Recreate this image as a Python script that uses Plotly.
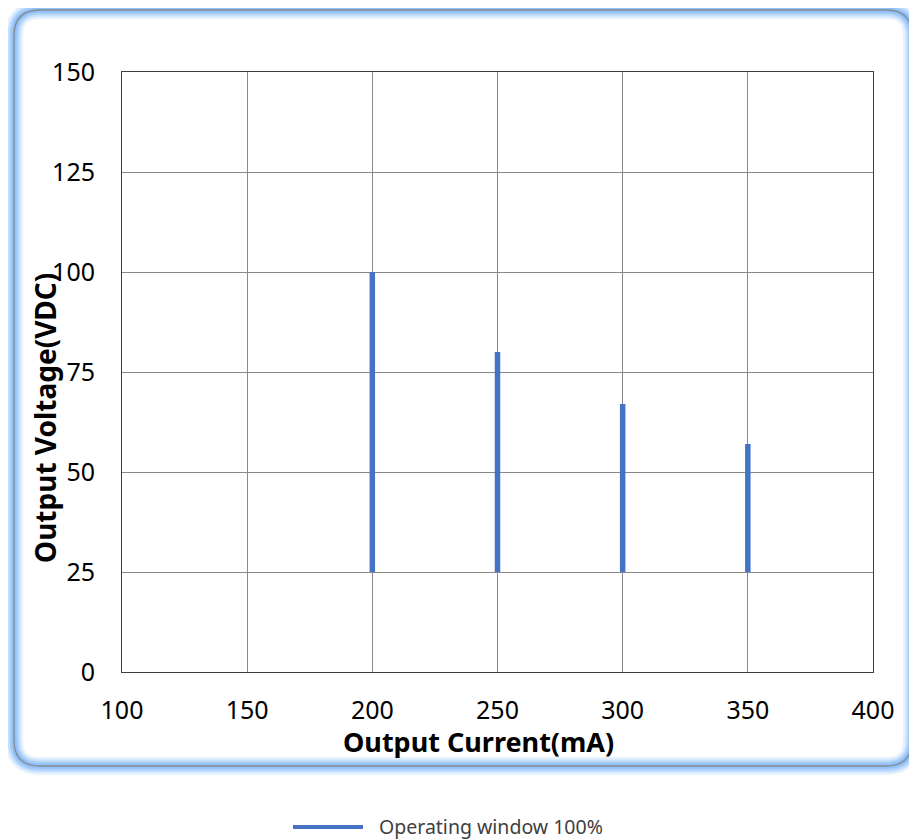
import plotly.graph_objects as go

currents = [200, 250, 300, 350]
v_min = [25, 25, 25, 25]
v_max = [100, 80, 67, 57]
x_ticks = [100, 150, 200, 250, 300, 350, 400]
y_ticks = [0, 25, 50, 75, 100, 125, 150]
legend_label = "Operating window 100%"

OFF = 8  # page body margin
W, H = 917 - OFF, 840 - OFF
L, R, T, B = 122, 873, 72, 672  # screen pixel positions of plot area


def px(x):
    return (x - L) / (R - L)


def py(y):
    return (B - y) / (B - T)


xs, ys = [], []
for c, lo, hi in zip(currents, v_min, v_max):
    xs += [c, c, None]
    ys += [lo, hi, None]

fig = go.Figure()
fig.add_trace(go.Scatter(x=xs, y=ys, mode="lines",
                         line=dict(color="#4472C4", width=5.5),
                         name=legend_label, showlegend=False))


def rrect(x0, y0, x1, y1, r):
    X0, X1 = px(x0), px(x1)
    Y0, Y1 = py(y0), py(y1)
    rx = r / (R - L)
    ry = r / (B - T)
    return (f"M {X0+rx} {Y0} L {X1-rx} {Y0} Q {X1} {Y0} {X1} {Y0-ry} "
            f"L {X1} {Y1+ry} Q {X1} {Y1} {X1-rx} {Y1} "
            f"L {X0+rx} {Y1} Q {X0} {Y1} {X0} {Y1+ry} "
            f"L {X0} {Y0-ry} Q {X0} {Y0} {X0+rx} {Y0} Z")


shapes = []
path = rrect(14, 10, 912, 766, 26)
for w, a in [(18, 0.18), (13, 0.28), (9, 0.38), (5, 0.55)]:
    shapes.append(dict(type="path", path=path, xref="paper", yref="paper",
                       line=dict(color=f"rgba(120,180,250,{a})", width=w), layer="below"))
shapes.append(dict(type="path", path=path, xref="paper", yref="paper",
                   line=dict(color="#8a8a8a", width=1.3), layer="below"))
# legend sample line
shapes.append(dict(type="line", xref="paper", yref="paper",
                   x0=px(293), x1=px(363), y0=py(827), y1=py(827),
                   line=dict(color="#4472C4", width=4)))

annotations = [
    dict(text="<b>Output Voltage(VDC)</b>", textangle=-90, x=px(45), y=py(418),
         xanchor="center", yanchor="middle",
         xref="paper", yref="paper", showarrow=False,
         font=dict(family="Noto Sans", size=28, color="black")),
    dict(text="<b>Output Current(mA)</b>", x=px(478), y=py(741),
         xanchor="center", yanchor="middle",
         xref="paper", yref="paper", showarrow=False,
         font=dict(family="Noto Sans", size=27, color="black")),
    dict(text=legend_label, x=px(377), y=py(826), xanchor="left", yanchor="middle",
         xref="paper", yref="paper", showarrow=False,
         font=dict(family="Noto Sans", size=19.5, color="#404040")),
]

fig.update_layout(
    width=W, height=H,
    margin=dict(l=L - OFF, r=W - (R - OFF), t=T - OFF, b=H - (B - OFF), pad=0),
    paper_bgcolor="white", plot_bgcolor="white",
    shapes=shapes, annotations=annotations,
    font=dict(family="Noto Sans", size=25, color="black"),
    xaxis=dict(range=[100, 400], tickvals=x_ticks, showgrid=True,
               gridcolor="#888888", gridwidth=1, showline=True, linecolor="#404040",
               mirror=True, ticks="", zeroline=False, ticklabelstandoff=16,
               tickfont=dict(size=25)),
    yaxis=dict(range=[0, 150], tickvals=y_ticks, showgrid=True,
               gridcolor="#888888", gridwidth=1, showline=True, linecolor="#404040",
               mirror=True, ticks="", zeroline=False, ticklabelstandoff=21,
               tickfont=dict(size=25)),
)

fig.write_html("out.html")
